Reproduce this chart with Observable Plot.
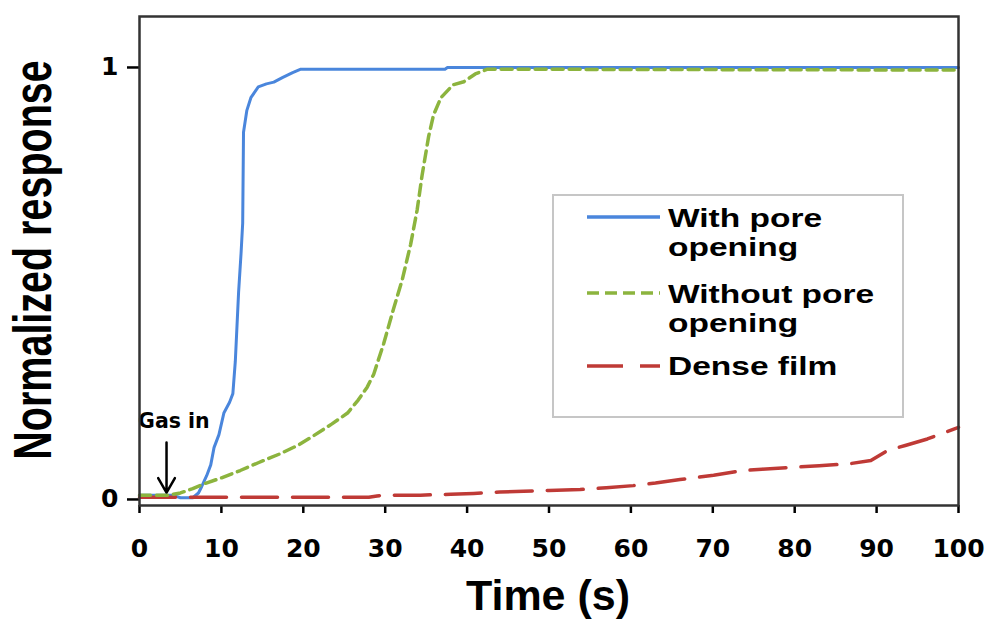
<!DOCTYPE html>
<html><head><meta charset="utf-8">
<script src="https://cdn.jsdelivr.net/npm/d3@7"></script>
<script src="https://cdn.jsdelivr.net/npm/@observablehq/plot@0.6"></script>
<style>body{margin:0;background:#fff}</style>
</head><body><div id="chart"></div>
<script>
// Series data (time in s, normalized response)
const withPoreX = [0, 4, 5, 6.5, 7.2, 7.6, 8.2, 8.7, 9.1, 9.7, 10.3, 11, 11.4, 11.7, 12.1, 12.4, 12.6, 12.7, 13.1, 13.6, 14.5, 15.5, 16.4, 17.5, 18.7, 19.7, 37.3, 37.6, 100];
const withPoreY = [0.01, 0.01, 0.004, 0.004, 0.015, 0.03, 0.055, 0.08, 0.12, 0.15, 0.2, 0.225, 0.245, 0.32, 0.48, 0.57, 0.64, 0.85, 0.9, 0.93, 0.955, 0.962, 0.966, 0.977, 0.988, 0.996, 0.996, 1.0, 1.0];

const withoutPoreX = [0, 3.5, 5, 6.5, 8, 10, 12.3, 14.5, 17.2, 19.5, 21.3, 23.5, 25.4, 26.7, 27.8, 28.6, 29.8, 31, 32.1, 33.1, 33.9, 34.5, 35.3, 35.9, 36.8, 38.3, 39.6, 41, 42.5, 100];
const withoutPoreY = [0.01, 0.01, 0.015, 0.025, 0.037, 0.05, 0.067, 0.085, 0.106, 0.127, 0.148, 0.175, 0.2, 0.23, 0.26, 0.29, 0.36, 0.44, 0.51, 0.59, 0.67, 0.75, 0.84, 0.89, 0.93, 0.96, 0.967, 0.985, 0.996, 0.994];

const denseX = [0, 28, 29, 29.8, 34.3, 38, 40.8, 44, 46.9, 50, 53.8, 57, 60.3, 63, 66, 70.1, 73.7, 76, 79.5, 83, 86.8, 89.3, 91.3, 93.5, 96.2, 100];
const denseY = [0.005, 0.005, 0.008, 0.01, 0.01, 0.012, 0.014, 0.017, 0.019, 0.021, 0.023, 0.027, 0.032, 0.038, 0.046, 0.056, 0.067, 0.07, 0.074, 0.078, 0.083, 0.09, 0.113, 0.125, 0.14, 0.167];

const seriesLabels = [["With pore", "opening"], ["Without pore", "opening"], ["Dense film"]];
const xTicks = [0, 10, 20, 30, 40, 50, 60, 70, 80, 90, 100];
const yTicks = [0, 1];
const gasIn = [{x: 3.3, y1: 0.132, y2: 0.016, textX: 4.2, textY: 0.18, label: "Gas in"}];
const xLabel = "Time (s)";
const yLabel = "Normalized response";

const colors = ["#4a86dc", "#8cb43e", "#bf3a36"];
const dashes = [null, "11,6", "36,15"];
const legendDashes = [null, "12,6", "36,17"];

const toRows = (xs, ys) => xs.map((x, i) => ({x, y: ys[i]}));
const series = [toRows(withPoreX, withPoreY), toRows(withoutPoreX, withoutPoreY), toRows(denseX, denseY)];

const plot = Plot.plot({
  width: 985, height: 619,
  marginLeft: 139, marginRight: 27, marginTop: 16, marginBottom: 114,
  x: {domain: [0, 100]},
  y: {domain: [-0.014, 1.118]},
  style: {fontFamily: "DejaVu Sans", fontWeight: "bold", fontSize: "25px", color: "#000", background: "#fff"},
  marks: [
    Plot.axisX({ticks: xTicks, tickFormat: d => String(d), tickSize: 8, tickPadding: 26, label: null, fontSize: 25, fontWeight: "bold", strokeWidth: 2.5}),
    Plot.axisY({ticks: yTicks, tickFormat: d => String(d), tickSize: 12, tickPadding: 9, label: null, fontSize: 25, fontWeight: "bold", strokeWidth: 2.5}),
    Plot.line(series[0], {x: "x", y: "y", stroke: colors[0], strokeWidth: 3}),
    Plot.line(series[2], {x: "x", y: "y", stroke: colors[2], strokeWidth: 3.5, strokeDasharray: dashes[2]}),
    Plot.line(series[1], {x: "x", y: "y", stroke: colors[1], strokeWidth: 3.5, strokeDasharray: dashes[1]}),
    Plot.arrow(gasIn, {x1: "x", y1: "y1", x2: "x", y2: "y2", stroke: "#000", strokeWidth: 2.5, headLength: 16, headAngle: 60}),
    Plot.text(gasIn, {x: "textX", y: "textY", text: "label", fontSize: 20.5, fontWeight: "bold", fontFamily: "DejaVu Sans", fill: "#000"}),
    Plot.frame({stroke: "#333", strokeWidth: 2.5})
  ]
});

document.getElementById("chart").appendChild(plot);
const svg = d3.select(plot);
const ff = "'Liberation Sans', Arial, sans-serif";

// Axis titles
svg.append("text").attr("transform", "translate(548,610)")
  .attr("text-anchor", "middle").attr("font-family", ff).attr("font-weight", "bold")
  .attr("font-size", 43).attr("fill", "#000").text(xLabel);
svg.append("text").attr("transform", "translate(51,260) rotate(-90) scale(1,1.34)")
  .attr("text-anchor", "middle").attr("font-family", ff).attr("font-weight", "bold")
  .attr("font-size", 39.5).attr("fill", "#000").text(yLabel);

// Legend
const lg = svg.append("g");
lg.append("rect").attr("x", 553).attr("y", 195).attr("width", 350).attr("height", 222)
  .attr("fill", "#fff").attr("stroke", "#c6c6c6").attr("stroke-width", 2);
const lineY = [217, 293, 366];
const textY = [227, 303, 375];
seriesLabels.forEach((lines, i) => {
  lg.append("line").attr("x1", 587).attr("x2", 660).attr("y1", lineY[i]).attr("y2", lineY[i])
    .attr("stroke", colors[i]).attr("stroke-width", 3.5)
    .attr("stroke-dasharray", legendDashes[i]);
  lines.forEach((t, j) => {
    lg.append("text").attr("transform", `translate(668,${textY[i] + j * 29}) scale(1.34,1)`)
      .attr("text-anchor", "start")
      .attr("font-family", ff).attr("font-weight", "bold").attr("font-size", 25)
      .attr("fill", "#000").text(t);
  });
});
</script></body></html>
